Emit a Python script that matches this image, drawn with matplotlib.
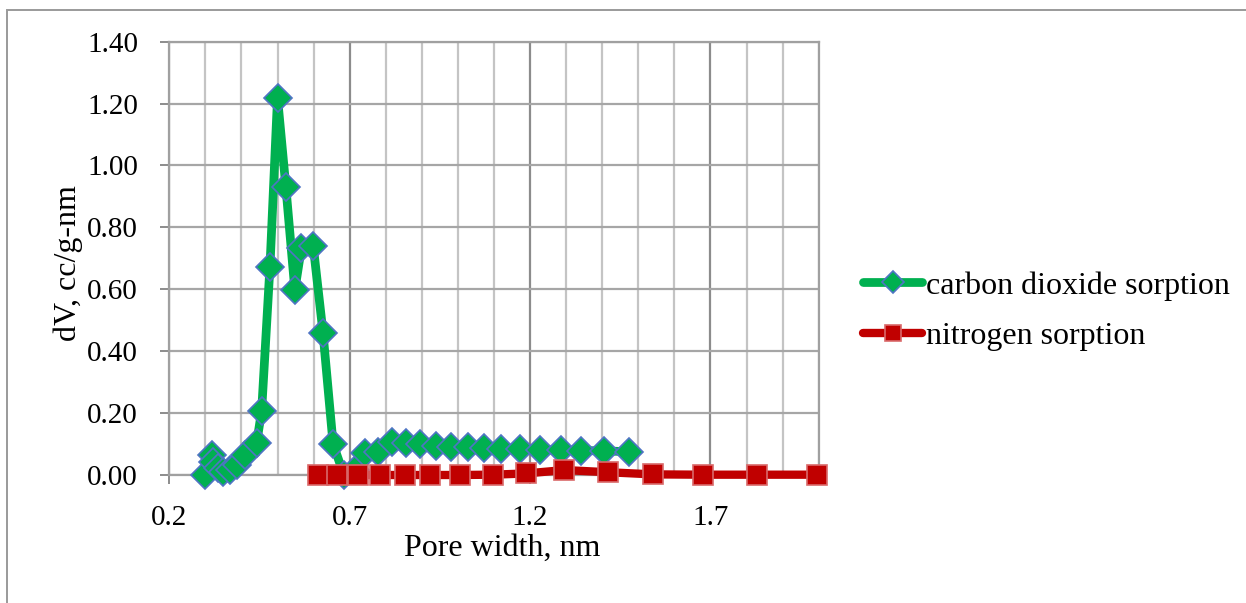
import matplotlib
matplotlib.use("Agg")
import matplotlib.pyplot as plt
from matplotlib.ticker import MultipleLocator, FixedLocator
from matplotlib.patches import Rectangle

plt.rcParams['font.family'] = ['Liberation Serif', 'DejaVu Serif']

# ---- data ----
co2_x = [0.299, 0.317, 0.322, 0.336, 0.350, 0.368, 0.387, 0.410, 0.442, 0.456,
         0.479, 0.500, 0.523, 0.548, 0.566, 0.599, 0.626, 0.654, 0.684, 0.714,
         0.742, 0.779, 0.816, 0.855, 0.894, 0.938, 0.982, 1.028, 1.072, 1.120,
         1.173, 1.228, 1.286, 1.341, 1.406, 1.475]
co2_y = [0.000, 0.065, 0.043, 0.022, 0.011, 0.016, 0.032, 0.065, 0.102, 0.208,
         0.673, 1.219, 0.932, 0.598, 0.733, 0.740, 0.460, 0.100, 0.000, 0.016,
         0.070, 0.075, 0.108, 0.102, 0.100, 0.094, 0.092, 0.090, 0.086, 0.083,
         0.083, 0.081, 0.081, 0.079, 0.078, 0.075]
n2_x = [0.613, 0.665, 0.723, 0.783, 0.852, 0.922, 1.005, 1.097, 1.189, 1.295,
        1.415, 1.540, 1.678, 1.830, 1.996]
n2_y = [0.000, 0.000, 0.000, 0.000, 0.000, 0.000, 0.000, 0.001, 0.005, 0.016,
        0.009, 0.002, 0.001, 0.001, 0.001]
series_labels = ["carbon dioxide sorption", "nitrogen sorption"]
x_label = "Pore width, nm"
y_label = "dV, cc/g-nm"
x_ticks = [0.2, 0.7, 1.2, 1.7]
y_ticks = [0.0, 0.2, 0.4, 0.6, 0.8, 1.0, 1.2, 1.4]

W, H = 1246, 603
fig = plt.figure(figsize=(W / 100, H / 100), dpi=100)
ax = fig.add_axes([169.3 / W, 1 - 475 / H, (818.7 - 169.3) / W, (475 - 41.7) / H])

ax.set_xlim(0.2, 2.0)
ax.set_ylim(0.0, 1.4)
ax.xaxis.set_major_locator(FixedLocator(x_ticks))
ax.xaxis.set_minor_locator(MultipleLocator(0.1))
ax.yaxis.set_major_locator(FixedLocator(y_ticks))
ax.set_xticklabels([f"{v:.1f}" for v in x_ticks])
ax.set_yticklabels([f"{v:.2f}" for v in y_ticks])

ax.grid(True, which='minor', axis='x', color='#c4c4c4', linewidth=1.6)
ax.grid(True, which='major', axis='x', color='#8c8c8c', linewidth=1.6)
ax.grid(True, which='major', axis='y', color='#a6a6a6', linewidth=1.6)
ax.set_axisbelow(True)
for s in ax.spines.values():
    s.set_color('#a0a0a0')
    s.set_linewidth(1.6)

ax.tick_params(axis='both', which='major', labelsize=21, length=6.5, width=1.4,
               color='#8c8c8c', direction='out')
ax.tick_params(axis='x', which='minor', length=0)
ax.tick_params(axis='y', pad=16)
ax.tick_params(axis='x', pad=15)

ax.plot(co2_x, co2_y, color='#00b050', linewidth=6.3, solid_capstyle='round',
        solid_joinstyle='round', marker='D', markersize=14.5,
        markerfacecolor='#00b050', markeredgecolor='#4f74c4', markeredgewidth=1.2,
        label=series_labels[0], zorder=3, clip_on=False)
ax.plot(n2_x, n2_y, color='#c00000', linewidth=6.0, solid_capstyle='round',
        solid_joinstyle='round', marker='s', markersize=14.5,
        markerfacecolor='#c00000', markeredgecolor='#d9696a', markeredgewidth=1.2,
        label=series_labels[1], zorder=4, clip_on=False)

fig.text(502 / W, 1 - 548 / H, x_label, ha='center', va='center', fontsize=23)
fig.text(68 / W, 1 - 263 / H, y_label, ha='center', va='center', fontsize=23,
         rotation=90)

leg = fig.legend(loc='center left', bbox_to_anchor=(863 / W, 1 - 311 / H), frameon=False,
                 fontsize=23, handlelength=1.85, handletextpad=0.12, labelspacing=0.66,
                 borderpad=0, borderaxespad=0, markerscale=0.75)

fig.patches.append(Rectangle((7.3 / W, -0.2), 1.5, 1.2 - 10 / H,
                             transform=fig.transFigure, fill=False,
                             edgecolor='#9a9a9a', linewidth=1.4))

fig.savefig("out.png", dpi=100)
